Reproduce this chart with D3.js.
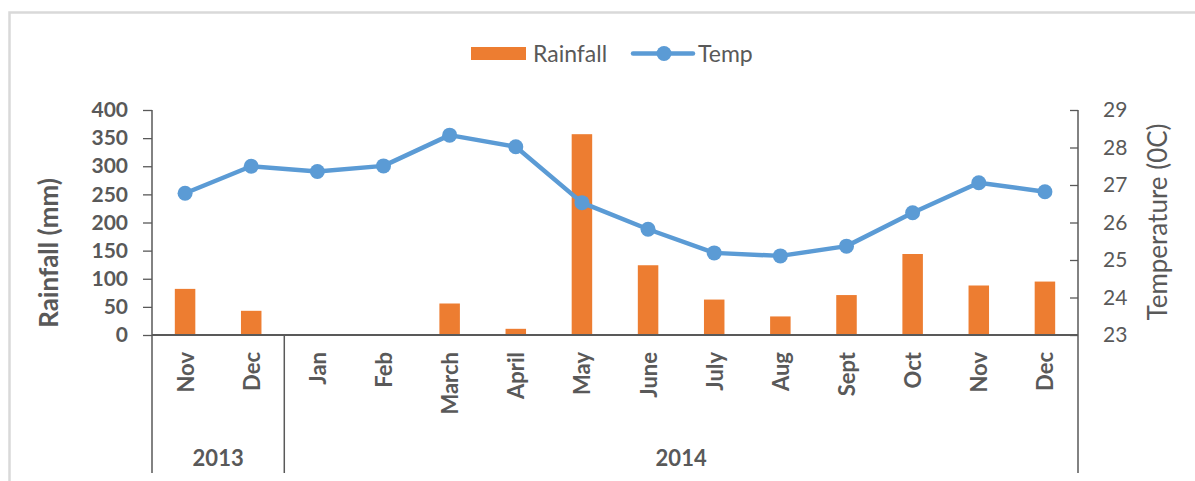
<!DOCTYPE html>
<html>
<head>
<meta charset="utf-8">
<script src="https://cdn.jsdelivr.net/npm/d3@7/dist/d3.min.js"></script>
<style>
  html, body { margin: 0; padding: 0; background: #fff; }
  svg { display: block; }
  text { font-family: Lato, "Open Sans", sans-serif; }
</style>
</head>
<body>
<svg id="chart" width="1195" height="481"></svg>
<script>
// ---- data ----
const months = ["Nov","Dec","Jan","Feb","March","April","May","June","July","Aug","Sept","Oct","Nov","Dec"];
const years  = ["2013","2013","2014","2014","2014","2014","2014","2014","2014","2014","2014","2014","2014","2014"];
const rainfall = [82, 43, 0, 0, 56, 11, 357, 124, 63, 33, 71, 144, 88, 95];
const temp = [26.78, 27.5, 27.36, 27.51, 28.33, 28.02, 26.53, 25.82, 25.19, 25.11, 25.37, 26.26, 27.06, 26.82];
const rainTicks = [0, 50, 100, 150, 200, 250, 300, 350, 400];
const tempTicks = [23, 24, 25, 26, 27, 28, 29];

const svg = d3.select("#chart");
const L = 152, R = 1078, T = 110, B = 335, GB = 473;
const axisColor = "#595959", textColor = "#595959";
const orange = "#ED7D31", blue = "#5B9BD5";

// outer frame
svg.append("rect").attr("x", 9.5).attr("y", 12.5).attr("width", 1200).attr("height", 500)
  .attr("fill", "none").attr("stroke", "#d9d9d9").attr("stroke-width", 2.5);

const idx = months.map((m, i) => i);
const x = d3.scaleBand().domain(idx).range([L, R]).padding(0);
const yL = d3.scaleLinear().domain([0, 400]).range([B, T]);
const yR = d3.scaleLinear().domain([23, 29]).range([B, T]);

// bars
const bw = x.bandwidth();
svg.append("g").selectAll("rect").data(idx).join("rect")
  .attr("x", i => x(i) + bw * 0.345)
  .attr("width", bw * 0.31)
  .attr("y", i => yL(rainfall[i]))
  .attr("height", i => yL(0) - yL(rainfall[i]))
  .attr("fill", orange);

// left axis
const gL = svg.append("g").attr("transform", `translate(${L},0)`)
  .call(d3.axisLeft(yL).tickValues(rainTicks).tickSize(9).tickPadding(15));
gL.select(".domain").remove();
gL.selectAll("line").attr("stroke", axisColor).attr("stroke-width", 1.3);
gL.selectAll("text").attr("fill", textColor).attr("font-size", 21).attr("font-weight", "bold")
  .attr("font-family", "'Open Sans', sans-serif");

// right axis
const gR = svg.append("g").attr("transform", `translate(${R},0)`)
  .call(d3.axisRight(yR).tickValues(tempTicks).tickFormat(d3.format("d")).tickSize(-8).tickPadding(25));
gR.select(".domain").remove();
gR.selectAll("line").attr("stroke", axisColor).attr("stroke-width", 1.3);
gR.selectAll("text").attr("fill", textColor).attr("font-size", 21)
  .attr("font-family", "'Open Sans', sans-serif");

// axis lines
svg.append("line").attr("x1", L).attr("x2", L).attr("y1", T).attr("y2", GB)
  .attr("stroke", axisColor).attr("stroke-width", 1.5);
svg.append("line").attr("x1", R).attr("x2", R).attr("y1", T).attr("y2", GB)
  .attr("stroke", axisColor).attr("stroke-width", 1.5);
svg.append("line").attr("x1", L).attr("x2", R).attr("y1", B).attr("y2", B)
  .attr("stroke", axisColor).attr("stroke-width", 2);

// year groups
const groups = [];
years.forEach((yr, i) => {
  const g = groups[groups.length - 1];
  if (g && g.label === yr) g.end = i; else groups.push({label: yr, start: i, end: i});
});
groups.forEach((g, k) => {
  const x0 = x(g.start), x1 = x(g.end) + bw;
  if (k > 0) {
    svg.append("line").attr("x1", x0).attr("x2", x0).attr("y1", B).attr("y2", GB)
      .attr("stroke", axisColor).attr("stroke-width", 1.5);
  }
  svg.append("text").attr("x", (x0 + x1) / 2).attr("y", 466)
    .attr("text-anchor", "middle").attr("font-size", 22).attr("font-weight", "bold")
    .attr("fill", textColor).text(g.label);
});

// month labels
svg.append("g").selectAll("text").data(idx).join("text")
  .attr("transform", i => `translate(${x(i) + bw / 2},352) rotate(-90)`)
  .attr("text-anchor", "end").attr("dominant-baseline", "central")
  .attr("font-size", 22).attr("font-weight", "bold").attr("fill", textColor)
  .text(i => months[i]);

// temp line
const line = d3.line().x(i => x(i) + bw / 2).y(i => yR(temp[i]));
svg.append("path").datum(idx).attr("d", line)
  .attr("fill", "none").attr("stroke", blue).attr("stroke-width", 4.5).attr("stroke-linejoin", "round");
svg.append("g").selectAll("circle").data(idx).join("circle")
  .attr("cx", i => x(i) + bw / 2).attr("cy", i => yR(temp[i])).attr("r", 7.5).attr("fill", blue);

// axis titles
svg.append("text").attr("transform", "translate(48,253) rotate(-90)")
  .attr("text-anchor", "middle").attr("dominant-baseline", "central")
  .attr("font-size", 26).attr("font-weight", "bold").attr("fill", textColor)
  .attr("font-family", "'Open Sans', sans-serif").text("Rainfall (mm)");
svg.append("text").attr("transform", "translate(1157,222) rotate(-90)")
  .attr("text-anchor", "middle").attr("dominant-baseline", "central")
  .attr("font-size", 26).attr("fill", textColor)
  .attr("font-family", "'Open Sans', sans-serif").text("Temperature (0C)");

// legend
const lg = svg.append("g");
lg.append("rect").attr("x", 471).attr("y", 47).attr("width", 55).attr("height", 13).attr("fill", orange);
lg.append("text").attr("x", 533).attr("y", 62).attr("font-size", 23).attr("fill", textColor).text("Rainfall");
lg.append("line").attr("x1", 633).attr("x2", 693).attr("y1", 53.5).attr("y2", 53.5)
  .attr("stroke", blue).attr("stroke-width", 4.5).attr("stroke-linecap", "round");
lg.append("circle").attr("cx", 664).attr("cy", 53.5).attr("r", 7.5).attr("fill", blue);
lg.append("text").attr("x", 698).attr("y", 62).attr("font-size", 23).attr("fill", textColor).text("Temp");
</script>
</body>
</html>
